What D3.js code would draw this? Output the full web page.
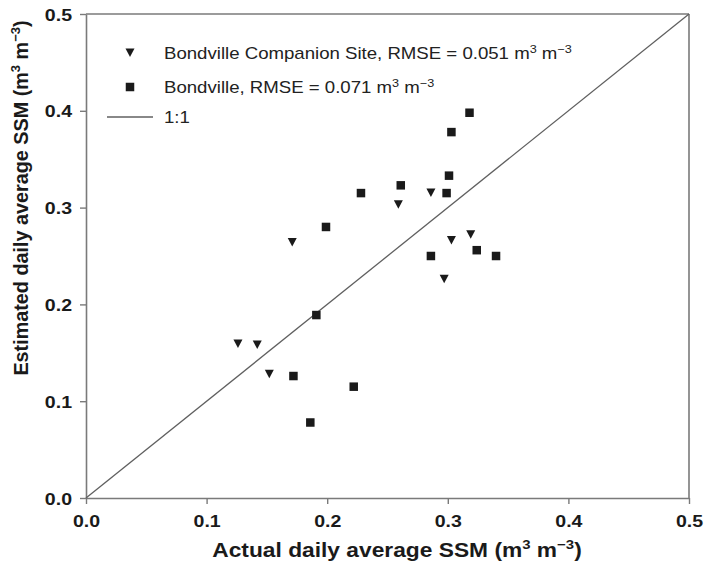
<!DOCTYPE html>
<html>
<head>
<meta charset="utf-8">
<script src="https://cdn.jsdelivr.net/npm/d3@7"></script>
<style>
  html, body { margin: 0; padding: 0; background: #fff; }
  svg { display: block; font-family: "Liberation Sans", Arial, sans-serif; }
</style>
</head>
<body>
<svg id="chart" width="709" height="566"></svg>
<script>
// Actual vs estimated daily average surface soil moisture (m3 m-3)
const companionActual    = [0.286, 0.259, 0.171, 0.303, 0.319, 0.297, 0.126, 0.142, 0.152];
const companionEstimated = [0.316, 0.304, 0.265, 0.267, 0.273, 0.227, 0.160, 0.159, 0.129];

const bondvilleActual    = [0.318, 0.303, 0.301, 0.299, 0.261, 0.228, 0.199, 0.286, 0.324, 0.340, 0.191, 0.172, 0.222, 0.186];
const bondvilleEstimated = [0.398, 0.378, 0.333, 0.315, 0.323, 0.315, 0.280, 0.250, 0.256, 0.250, 0.189, 0.126, 0.115, 0.078];

const tickValues = [0.0, 0.1, 0.2, 0.3, 0.4, 0.5];
const legendLabels = [
  { kind: "tri",  main: "Bondville Companion Site, RMSE = 0.051 m" },
  { kind: "sq",   main: "Bondville, RMSE = 0.071 m" },
  { kind: "line", main: "1:1" }
];

const svg = d3.select("#chart");
const plotLeft = 86, plotRight = 689, plotTop = 14, plotBottom = 498;
const SX = 1.15; // horizontal widening applied to the lettering

const x = d3.scaleLinear().domain([0, 0.5]).range([plotLeft, plotRight]);
const y = d3.scaleLinear().domain([0, 0.5]).range([plotBottom, plotTop]);

const frameColor = "#7a7a7a";
const fmt = d3.format(".1f");

// Axes
const xAxis = svg.append("g")
  .attr("transform", `translate(0,${plotBottom})`)
  .call(d3.axisBottom(x).tickValues(tickValues).tickFormat(fmt).tickSize(6).tickSizeOuter(0));
const yAxis = svg.append("g")
  .attr("transform", `translate(${plotLeft},0)`)
  .call(d3.axisLeft(y).tickValues(tickValues).tickFormat(fmt).tickSize(6).tickSizeOuter(0));

[xAxis, yAxis].forEach(g => {
  g.select(".domain").attr("stroke", frameColor).attr("stroke-width", 1.6);
  g.selectAll(".tick line").attr("stroke", frameColor).attr("stroke-width", 1.4);
  g.selectAll(".tick text")
    .attr("fill", "#1a1a1a")
    .attr("transform", `scale(${SX},1)`)
    .style("font-size", "17px")
    .style("font-weight", "bold")
    .style("font-family", "'Liberation Sans', Arial, sans-serif");
});
xAxis.selectAll(".tick text").attr("y", 29).attr("dy", 0);
yAxis.selectAll(".tick text").attr("x", -14 / SX).attr("dy", "0.36em");

// Top and right edges of the frame
svg.append("line").attr("x1", plotLeft).attr("x2", plotRight).attr("y1", plotTop).attr("y2", plotTop)
  .attr("stroke", frameColor).attr("stroke-width", 1.6);
svg.append("line").attr("x1", plotRight).attr("x2", plotRight).attr("y1", plotTop).attr("y2", plotBottom)
  .attr("stroke", frameColor).attr("stroke-width", 1.6);

// 1:1 reference line
svg.append("line")
  .attr("x1", x(0)).attr("y1", y(0)).attr("x2", x(0.5)).attr("y2", y(0.5))
  .attr("stroke", "#606060").attr("stroke-width", 1.3);

// Markers
const triPath = "M-4.5,-3.5 L4.5,-3.5 L0,5 Z";
const sqSize = 8.5;

svg.append("g").selectAll("path")
  .data(d3.zip(companionActual, companionEstimated))
  .join("path")
  .attr("d", triPath)
  .attr("transform", d => `translate(${x(d[0])},${y(d[1])})`)
  .attr("fill", "#1a1a1a");

svg.append("g").selectAll("rect")
  .data(d3.zip(bondvilleActual, bondvilleEstimated))
  .join("rect")
  .attr("x", d => x(d[0]) - sqSize / 2)
  .attr("y", d => y(d[1]) - sqSize / 2)
  .attr("width", sqSize).attr("height", sqSize)
  .attr("fill", "#1a1a1a");

// Legend
const legend = svg.append("g");
const rowY = [53, 87, 117];
legendLabels.forEach((item, i) => {
  const cy = rowY[i];
  if (item.kind === "tri") {
    legend.append("path").attr("d", triPath).attr("transform", `translate(130,${cy - 1})`).attr("fill", "#1a1a1a");
  } else if (item.kind === "sq") {
    legend.append("rect").attr("x", 130 - sqSize / 2).attr("y", cy - sqSize / 2)
      .attr("width", sqSize).attr("height", sqSize).attr("fill", "#1a1a1a");
  } else {
    legend.append("line").attr("x1", 107).attr("x2", 153).attr("y1", cy).attr("y2", cy)
      .attr("stroke", "#606060").attr("stroke-width", 1.3);
  }
  const t = legend.append("text")
    .attr("transform", `translate(164,${cy + 6}) scale(${SX},1)`)
    .attr("fill", "#222")
    .style("font-size", "16.2px");
  t.append("tspan").text(item.main);
  if (item.kind !== "line") {
    t.append("tspan").attr("dy", -6.5).style("font-size", "11px").text("3");
    t.append("tspan").attr("dy", 6.5).text(" m");
    t.append("tspan").attr("dy", -6.5).style("font-size", "11px").text("−3");
  }
});

// Axis titles
function titleText(sel, label) {
  sel.attr("text-anchor", "middle")
    .attr("fill", "#1a1a1a")
    .style("font-size", "19.8px").style("font-weight", "bold");
  sel.append("tspan").text(label + " (m");
  sel.append("tspan").attr("dy", -8).style("font-size", "13px").text("3");
  sel.append("tspan").attr("dy", 8).text(" m");
  sel.append("tspan").attr("dy", -8).style("font-size", "13px").text("−3");
  sel.append("tspan").attr("dy", 8).text(")");
}

svg.append("text")
  .attr("transform", `translate(397,557) scale(${SX},1)`)
  .call(titleText, "Actual daily average SSM");

svg.append("text")
  .attr("transform", "translate(28,198) rotate(-90)")
  .call(titleText, "Estimated daily average SSM");
</script>
</body>
</html>
